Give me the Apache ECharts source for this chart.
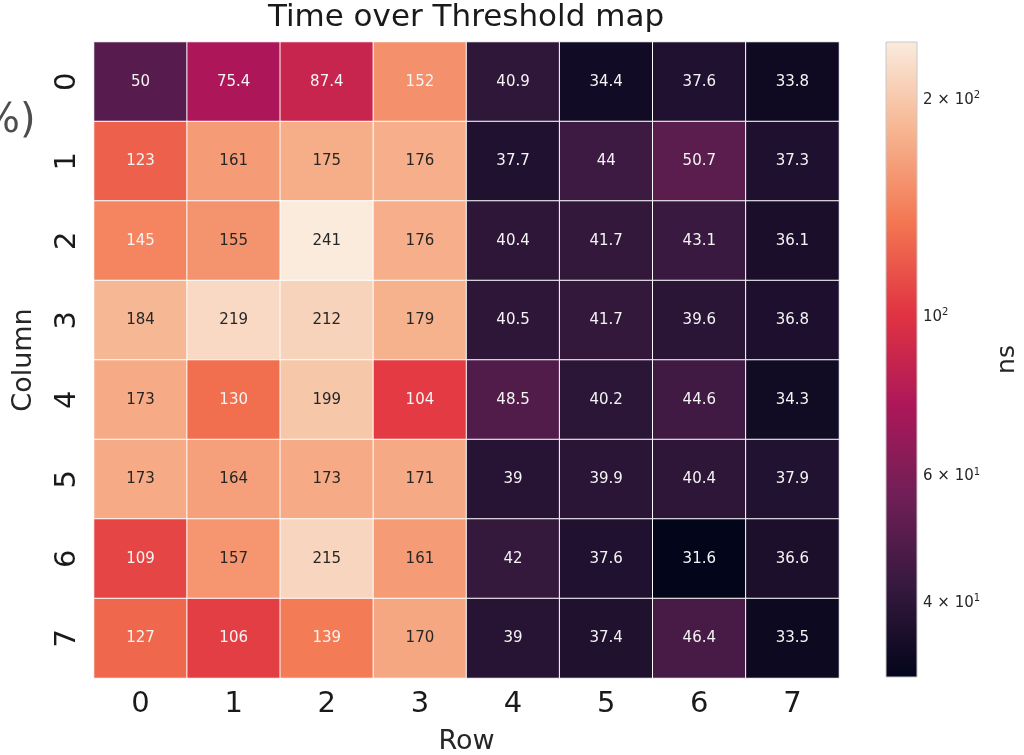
<!DOCTYPE html>
<html>
<head>
<meta charset="utf-8">
<script src="https://cdn.jsdelivr.net/npm/echarts@6/dist/echarts.min.js"></script>
<style>html,body{margin:0;padding:0;background:#fff}#c{width:1024px;height:755px}</style>
</head>
<body>
<div id="c"></div>
<script>
// ---- data ----
const rowLabels = ['0', '1', '2', '3', '4', '5', '6', '7'];      // x axis "Row"
const columnLabels = ['0', '1', '2', '3', '4', '5', '6', '7'];   // y axis "Column"
const column0 = [50, 75.4, 87.4, 152, 40.9, 34.4, 37.6, 33.8];
const column1 = [123, 161, 175, 176, 37.7, 44, 50.7, 37.3];
const column2 = [145, 155, 241, 176, 40.4, 41.7, 43.1, 36.1];
const column3 = [184, 219, 212, 179, 40.5, 41.7, 39.6, 36.8];
const column4 = [173, 130, 199, 104, 48.5, 40.2, 44.6, 34.3];
const column5 = [173, 164, 173, 171, 39, 39.9, 40.4, 37.9];
const column6 = [109, 157, 215, 161, 42, 37.6, 31.6, 36.6];
const column7 = [127, 106, 139, 170, 39, 37.4, 46.4, 33.5];
const colorbarMajorTicks = [40, 60, 100, 200];
const colorbarMinorTicks = [50, 70, 80, 90];

const columns = [column0, column1, column2, column3, column4, column5, column6, column7];

// ---- style: rocket colormap ----
const rocketStops = [
  [0, '#03051A'], [1/7, '#35193E'], [2/7, '#701F57'], [3/7, '#AD1759'],
  [4/7, '#E13342'], [5/7, '#F37651'], [6/7, '#F6B48F'], [1, '#FAEBDD']
];
function hex2rgb(h){return [parseInt(h.slice(1,3),16),parseInt(h.slice(3,5),16),parseInt(h.slice(5,7),16)];}
function rocket(t){
  t = Math.max(0, Math.min(1, t));
  for (let i = 0; i < rocketStops.length - 1; i++) {
    const [t0, c0] = rocketStops[i], [t1, c1] = rocketStops[i+1];
    if (t <= t1) {
      const f = (t - t0) / (t1 - t0), a = hex2rgb(c0), b = hex2rgb(c1);
      return a.map((v, k) => Math.round(v + (b[k] - v) * f));
    }
  }
  return hex2rgb(rocketStops[rocketStops.length-1][1]);
}
function lum(rgb){
  const l = rgb.map(v => { v /= 255; return v <= 0.03928 ? v / 12.92 : Math.pow((v + 0.055) / 1.055, 2.4); });
  return 0.2126*l[0] + 0.7152*l[1] + 0.0722*l[2];
}

const all = columns.flat();
const vmin = Math.min(...all), vmax = Math.max(...all);
const lmin = Math.log10(vmin), lmax = Math.log10(vmax);

const heatData = [];
columns.forEach((col, yi) => col.forEach((v, xi) => {
  const t = (Math.log10(v) - lmin) / (lmax - lmin);
  const rgb = rocket(t);
  heatData.push({
    value: [xi, yi, v],
    itemStyle: { color: 'rgb(' + rgb.join(',') + ')' },
    label: { color: lum(rgb) > 0.408 ? '#262626' : '#f4f4f4' }
  });
}));

const supLabel = {
  200: '2 × 10{s|2}', 100: '10{s|2}', 60: '6 × 10{s|1}', 40: '4 × 10{s|1}'
};

const FONT = 'DejaVu Sans';
const chart = echarts.init(document.getElementById('c'), null, { renderer: 'canvas' });
chart.setOption({
  animation: false,
  backgroundColor: '#fff',
  textStyle: { fontFamily: FONT },
  title: {
    text: 'Time over Threshold map',
    left: 466, top: 2, textAlign: 'center', padding: 0,
    textStyle: { fontFamily: FONT, fontSize: 31, fontWeight: 'normal', color: '#1a1a1a' }
  },
  grid: [
    { left: 94, right: 185, top: 42, bottom: 77, outerBoundsMode: 'none', containLabel: false },
    { left: 886, width: 31, top: 42, bottom: 78, outerBoundsMode: 'none', containLabel: false }
  ],
  xAxis: [
    {
      type: 'category', data: rowLabels, gridIndex: 0,
      name: 'Row', nameLocation: 'middle', nameGap: 50,
      nameTextStyle: { fontFamily: FONT, fontSize: 27, color: '#262626' },
      axisLine: { show: false },
      axisTick: { alignWithLabel: true, length: 5, lineStyle: { color: '#333' } },
      axisLabel: { fontFamily: FONT, fontSize: 29, color: '#1a1a1a', margin: 12 },
      splitLine: { show: false }
    },
    { type: 'value', gridIndex: 1, min: 0, max: 1, show: false }
  ],
  yAxis: [
    {
      type: 'category', data: columnLabels, gridIndex: 0, inverse: true,
      name: 'Column', nameLocation: 'middle', nameGap: 57, nameRotate: 90,
      nameTextStyle: { fontFamily: FONT, fontSize: 27, color: '#262626' },
      axisLine: { show: false },
      axisTick: { alignWithLabel: true, length: 5, lineStyle: { color: '#333' } },
      axisLabel: { fontFamily: FONT, fontSize: 29, color: '#1a1a1a', rotate: 90, margin: 12 },
      splitLine: { show: false }
    },
    {
      type: 'value', gridIndex: 1, position: 'right', min: lmin, max: lmax,
      name: 'ns', nameLocation: 'middle', nameGap: 78, nameRotate: 90,
      nameTextStyle: { fontFamily: FONT, fontSize: 25, color: '#262626' },
      axisLine: { show: false },
      splitLine: { show: false },
      axisTick: {
        show: true, length: 4, lineStyle: { color: '#333' },
        customValues: colorbarMajorTicks.concat(colorbarMinorTicks).map(v => Math.log10(v))
      },
      axisLabel: {
        show: true, margin: 6, fontFamily: FONT, fontSize: 15, color: '#262626',
        customValues: colorbarMajorTicks.map(v => Math.log10(v)),
        formatter: v => supLabel[Math.round(Math.pow(10, v))] || '',
        rich: { s: { fontSize: 10, fontFamily: FONT, color: '#262626', padding: [0, 0, 9, 0] } }
      }
    }
  ],
  graphic: [
    { type: 'text', left: -18, top: 102, style: { text: '%)', font: '40px "DejaVu Sans"', fill: '#4d4d4d' } }
  ],
  series: [
    {
      type: 'heatmap', xAxisIndex: 0, yAxisIndex: 0, data: heatData,
      itemStyle: { borderColor: '#ffffff', borderWidth: 1 },
      label: { show: true, fontFamily: FONT, fontSize: 15, formatter: p => String(p.value[2]) },
      emphasis: { disabled: true }
    },
    {
      type: 'custom', xAxisIndex: 1, yAxisIndex: 1, silent: true,
      data: [[0, lmin, 1, lmax]],
      renderItem: (params, api) => {
        const p1 = api.coord([api.value(0), api.value(3)]);
        const p2 = api.coord([api.value(2), api.value(1)]);
        return {
          type: 'rect',
          shape: { x: p1[0], y: p1[1], width: p2[0] - p1[0], height: p2[1] - p1[1] },
          style: {
            fill: new echarts.graphic.LinearGradient(0, 1, 0, 0,
              rocketStops.map(s => ({ offset: s[0], color: s[1] }))),
            stroke: '#c8c8c8', lineWidth: 1
          }
        };
      }
    }
  ]
});
</script>
</body>
</html>
